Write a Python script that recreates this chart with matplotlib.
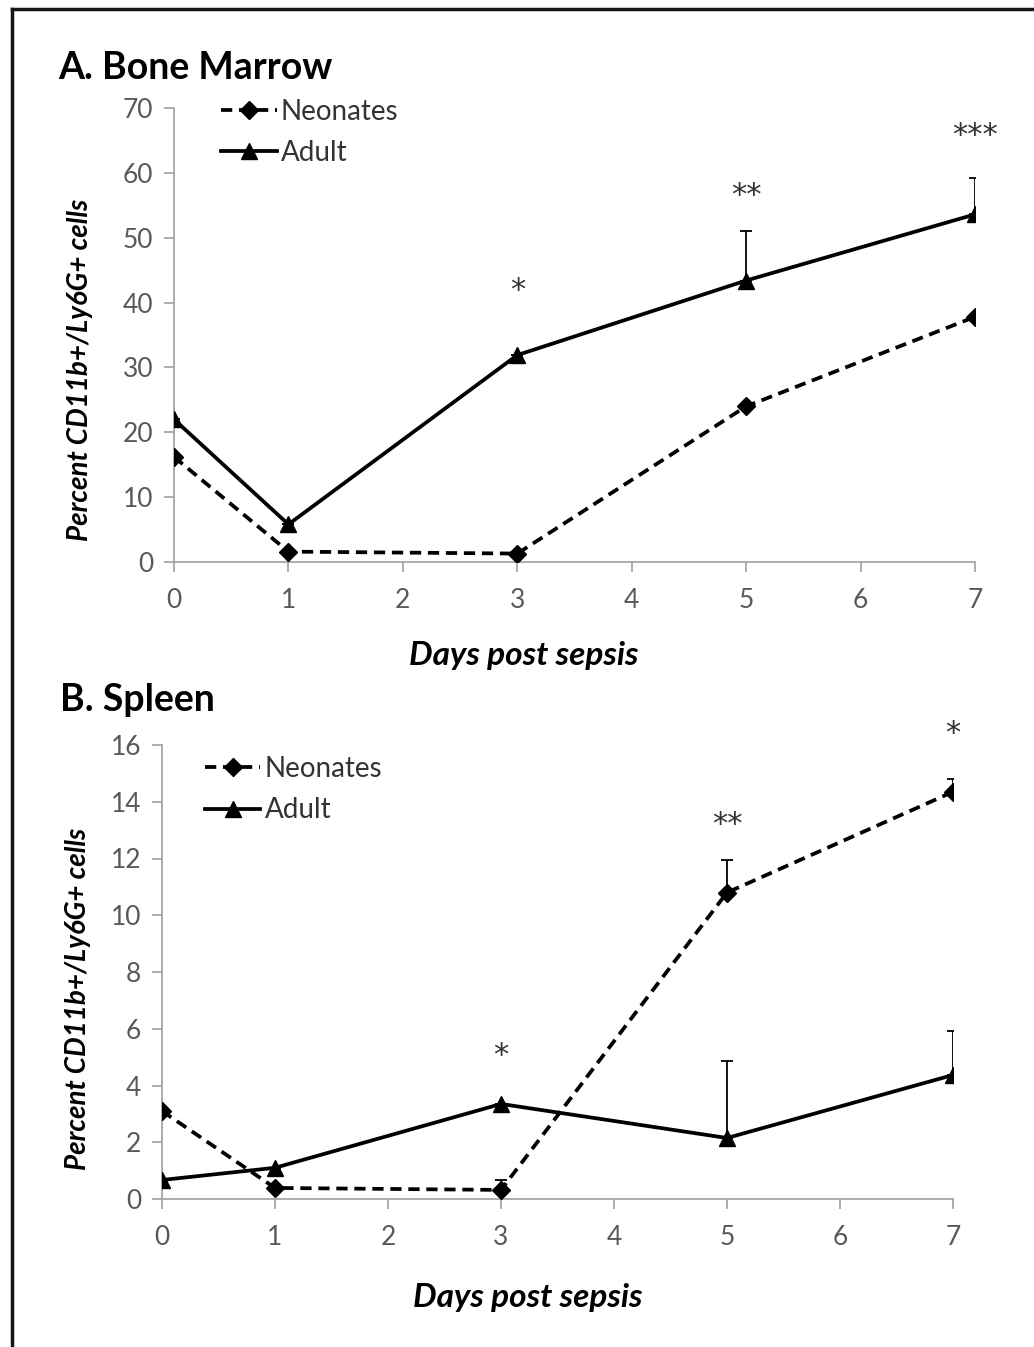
import matplotlib
matplotlib.use("Agg")
import matplotlib.pyplot as plt
from matplotlib.lines import Line2D

plt.rcParams['font.family'] = ['Lato', 'DejaVu Sans']

days = [0, 1, 3, 5, 7]
xticks = [0, 1, 2, 3, 4, 5, 6, 7]

# A. Bone marrow
bm_neonates = [16.2, 1.6, 1.3, 24.0, 37.8]
bm_adult = [22.0, 5.8, 31.9, 43.4, 53.6]
bm_neonates_err = [0, 0, 0, 0, 0]
bm_adult_err = [0, 0, 0, 7.6, 5.6]
bm_star_days = [3, 5, 7]
bm_star_y = [41.9, 56.5, 65.8]
bm_stars = ['*', '**', '***']

# B. Spleen
sp_neonates = [3.1, 0.39, 0.32, 10.8, 14.35]
sp_adult = [0.67, 1.1, 3.35, 2.15, 4.37]
sp_neonates_err = [0, 0, 0.35, 1.15, 0.45]
sp_adult_err = [0, 0, 0, 2.7, 1.55]
sp_star_days = [3, 5, 7]
sp_star_y = [5.05, 13.2, 16.4]
sp_stars = ['*', '**', '*']

W, H = 1034, 1347
fig = plt.figure(figsize=(W / 100, H / 100), dpi=100)

# frame lines (top and left) like the cropped figure
fig.add_artist(Line2D([12 / W, 12 / W], [0, 1 - 9 / H], color='#151515', lw=2.5,
                      transform=fig.transFigure))
fig.add_artist(Line2D([12 / W, 1], [1 - 9 / H, 1 - 9 / H], color='#151515', lw=2.5,
                      transform=fig.transFigure))

axA = fig.add_axes([174 / W, 1 - 562 / H, (975 - 174) / W, (562 - 108) / H])
axB = fig.add_axes([162 / W, 1 - 1199 / H, (953 - 162) / W, (1199 - 745) / H])

grey = '#a6a6a6'
tick_col = '#595959'


def draw(ax, neo, adult, neo_err, adult_err, ymax, ystep, sdays, sy, stars,
         xlab_pos, ylab_pos, leg_pos):
    ax.errorbar(days, neo, yerr=[[0] * len(days), neo_err], fmt='none',
                ecolor='black', elinewidth=1.3, capsize=4, capthick=1.3, zorder=2)
    ax.errorbar(days, adult, yerr=[[0] * len(days), adult_err], fmt='none',
                ecolor='black', elinewidth=1.3, capsize=4, capthick=1.3, zorder=2)
    ax.plot(days, neo, color='black', lw=2.7, ls=(0, (3, 1.8)), marker='D',
            markersize=9, label='Neonates', zorder=3)
    ax.plot(days, adult, color='black', lw=2.7, marker='^', markersize=12,
            label='Adult', zorder=3)
    for d, y, s in zip(sdays, sy, stars):
        ax.text(d, y, s, ha='center', va='center', fontsize=22, color='#333333',
                family='DejaVu Sans', clip_on=False)
    ax.set_xlim(0, 7)
    ax.set_ylim(0, ymax)
    ax.set_xticks(xticks)
    ax.set_yticks(range(0, ymax + 1, ystep))
    for side in ['top', 'right']:
        ax.spines[side].set_visible(False)
    for side in ['left', 'bottom']:
        ax.spines[side].set_color(grey)
        ax.spines[side].set_linewidth(1.3)
    ax.tick_params(axis='both', direction='out', length=7, width=1.3, color=grey,
                   labelsize=19, labelcolor=tick_col)
    ax.tick_params(axis='x', pad=12)
    ax.tick_params(axis='y', pad=8)
    ax.set_xlabel('Days post sepsis', fontsize=24, fontweight='bold', style='italic',
                  va='center', ha='center')
    ax.xaxis.set_label_coords(*xlab_pos)
    ax.set_ylabel('Percent CD11b+/Ly6G+ cells', fontsize=20, fontweight='bold',
                  style='italic', va='center', ha='center')
    ax.yaxis.set_label_coords(*ylab_pos)
    leg = ax.legend(loc='upper left', bbox_to_anchor=leg_pos, frameon=False,
                    fontsize=20, handlelength=2.0, handletextpad=0.15,
                    labelspacing=0.55, borderaxespad=0)
    for t in leg.get_texts():
        t.set_color('#333333')


draw(axA, bm_neonates, bm_adult, bm_neonates_err, bm_adult_err, 70, 10,
     bm_star_days, bm_star_y, bm_stars, (0.437, -0.205), (-0.117, 0.423),
     (0.045, 1.045))
draw(axB, sp_neonates, sp_adult, sp_neonates_err, sp_adult_err, 16, 2,
     sp_star_days, sp_star_y, sp_stars, (0.463, -0.218), (-0.106, 0.44),
     (0.04, 1.0))

fig.text(58 / W, 1 - 68 / H, 'A. Bone Marrow', fontsize=27, fontweight='bold',
         va='center', ha='left')
fig.text(60 / W, 1 - 700 / H, 'B. Spleen', fontsize=27, fontweight='bold',
         va='center', ha='left')

fig.savefig('out.png', dpi=100)
